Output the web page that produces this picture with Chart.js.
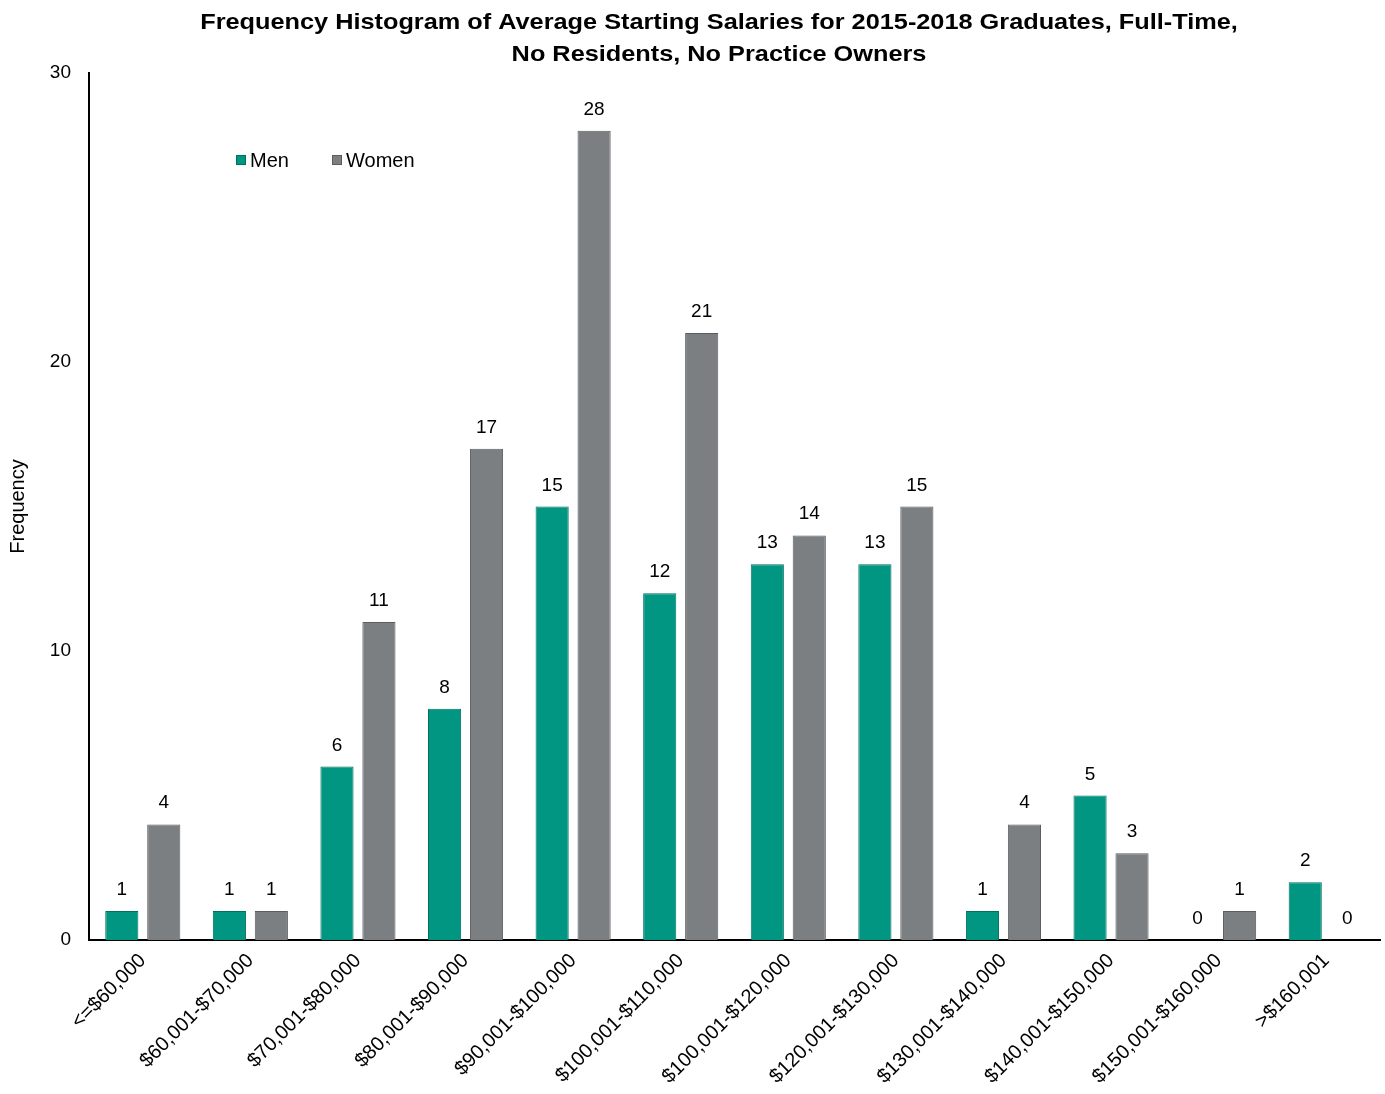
<!DOCTYPE html>
<html lang="en">
<head>
    <meta charset="UTF-8">
    <title>Frequency Histogram of Average Starting Salaries</title>
    <script src="https://cdn.jsdelivr.net/npm/chart.js"></script>
    <style>
        html, body { margin: 0; padding: 0; background: #fff; }
        #wrap { width: 1385px; height: 1094px; }
    </style>
</head>
<body>
    <div id="wrap">
        <canvas id="salaryChart" width="1385" height="1094"></canvas>
    </div>

    <script>
        // Data
        const salaryBands = ['<=$60,000', '$60,001-$70,000', '$70,001-$80,000', '$80,001-$90,000',
            '$90,001-$100,000', '$100,001-$110,000', '$100,001-$120,000', '$120,001-$130,000',
            '$130,001-$140,000', '$140,001-$150,000', '$150,001-$160,000', '>$160,001'];
        const menCounts = [1, 1, 6, 8, 15, 12, 13, 13, 1, 5, 0, 2];
        const womenCounts = [4, 1, 11, 17, 28, 21, 14, 15, 4, 3, 1, 0];
        const yTicks = [0, 10, 20, 30];
        const titleLines = ['Frequency Histogram of Average Starting Salaries for 2015-2018 Graduates, Full-Time,',
            'No Residents, No Practice Owners'];

        const FONT = "'Liberation Sans', Arial, sans-serif";

        // Title, legend and value labels drawn on the canvas
        const extrasPlugin = {
            id: 'extras',
            afterDatasetsDraw(chart) {
                const ctx = chart.ctx;
                ctx.save();
                ctx.fillStyle = '#000';
                ctx.textAlign = 'center';
                ctx.textBaseline = 'alphabetic';
                ctx.font = '19px ' + FONT;
                chart.data.datasets.forEach((ds, i) => {
                    chart.getDatasetMeta(i).data.forEach((bar, j) => {
                        ctx.fillText(String(ds.data[j]), bar.x, bar.y - 16);
                    });
                });

                // title (the original is a little wider than the font)
                ctx.save();
                ctx.font = 'bold 22px ' + FONT;
                ctx.translate(719, 0);
                ctx.scale(1.15, 1);
                ctx.fillText(titleLines[0], 0, 29);
                ctx.fillText(titleLines[1], 0, 61);
                ctx.restore();

                // legend inside plot area
                ctx.font = '20px ' + FONT;
                ctx.textAlign = 'left';
                ctx.textBaseline = 'middle';
                let x = 236;
                chart.data.datasets.forEach(ds => {
                    ctx.fillStyle = ds.backgroundColor;
                    ctx.fillRect(x, 155, 10, 10);
                    ctx.strokeStyle = ds.borderColor;
                    ctx.lineWidth = 1;
                    ctx.strokeRect(x + 0.5, 155.5, 9, 9);
                    ctx.fillStyle = '#000';
                    ctx.fillText(ds.label, x + 14, 161);
                    x += 96;
                });
                ctx.restore();
            }
        };

        const ctx = document.getElementById('salaryChart').getContext('2d');
        new Chart(ctx, {
            type: 'bar',
            data: {
                labels: salaryBands,
                datasets: [{
                    label: 'Men',
                    data: menCounts,
                    backgroundColor: '#009682',
                    borderColor: '#00705f',
                    borderWidth: 1,
                    categoryPercentage: 0.78,
                    barPercentage: 0.79
                }, {
                    label: 'Women',
                    data: womenCounts,
                    backgroundColor: '#7b7f82',
                    borderColor: '#5a5e61',
                    borderWidth: 1,
                    categoryPercentage: 0.78,
                    barPercentage: 0.79
                }]
            },
            options: {
                responsive: false,
                animation: false,
                layout: { padding: { top: 73, right: 5, bottom: 0, left: 0 } },
                plugins: {
                    legend: { display: false },
                    title: { display: false },
                    tooltip: { enabled: false }
                },
                scales: {
                    x: {
                        grid: { display: false, drawTicks: false },
                        border: { display: true, color: '#000', width: 2 },
                        ticks: {
                            color: '#000',
                            font: { family: FONT, size: 20 },
                            minRotation: 45,
                            maxRotation: 45,
                            padding: 9,
                            autoSkip: false
                        },
                        afterFit(scale) { scale.height = 154; }
                    },
                    y: {
                        min: 0,
                        max: 30,
                        afterBuildTicks(scale) { scale.ticks = yTicks.map(v => ({ value: v })); },
                        grid: { display: false, drawTicks: false },
                        border: { display: true, color: '#000', width: 2 },
                        ticks: {
                            color: '#000',
                            font: { family: FONT, size: 19 },
                            padding: 18
                        },
                        title: {
                            display: true,
                            text: 'Frequency',
                            color: '#000',
                            font: { family: FONT, size: 20 },
                            padding: { top: 6, bottom: 0 }
                        },
                        afterFit(scale) { scale.width = 89; }
                    }
                }
            },
            plugins: [extrasPlugin]
        });
    </script>
</body>
</html>
